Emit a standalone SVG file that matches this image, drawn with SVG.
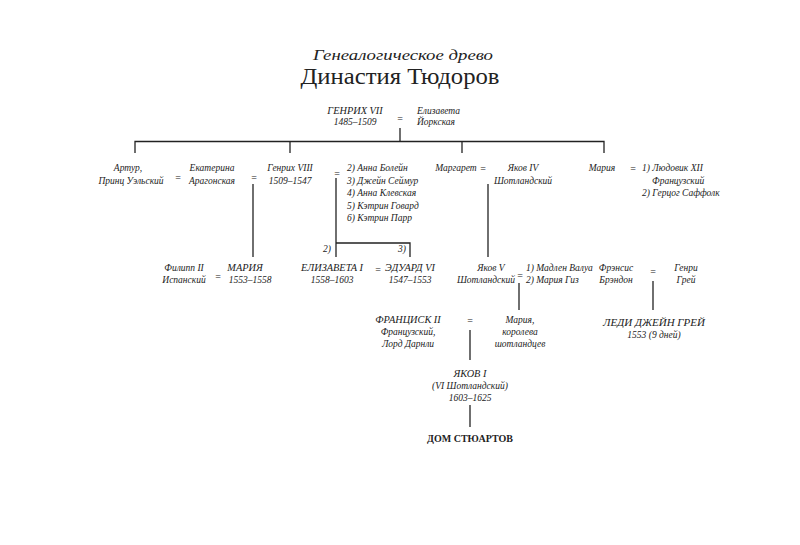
<svg xmlns="http://www.w3.org/2000/svg" width="800" height="545" viewBox="0 0 800 545">
<style>
.t{font-family:"Liberation Serif","DejaVu Serif",serif;font-style:italic;font-size:9.5px;fill:#222}
.k{font-size:10.3px}
.m{text-anchor:middle}
.eq{font-family:"Liberation Serif","DejaVu Serif",serif;font-size:10px;fill:#222;text-anchor:middle}
.c line,.c polyline{stroke:#222;stroke-width:1.3;fill:none}
</style>
<rect width="800" height="545" fill="#fff"/>
<g id="title">
<text x="403" y="60" class="t m" style="font-size:15.5px" textLength="180" lengthAdjust="spacingAndGlyphs">Генеалогическое древо</text>
<text x="400" y="84" style="font-family:'Liberation Serif','DejaVu Serif',serif;font-size:24px;fill:#222;text-anchor:middle" textLength="199" lengthAdjust="spacingAndGlyphs">Династия Тюдоров</text>
</g>
<g class="c" id="connectors">
<line x1="400" y1="128" x2="400" y2="141.5"/>
<polyline points="135,153 135,141.5 604,141.5 604,153"/>
<line x1="290" y1="141.5" x2="290" y2="153"/>
<line x1="462" y1="141.5" x2="462" y2="153"/>
<line x1="253" y1="184" x2="253" y2="257"/>
<line x1="336" y1="178" x2="336" y2="257"/>
<polyline points="336,243 410,243 410,257"/>
<line x1="488" y1="184" x2="488" y2="257"/>
<line x1="519" y1="283" x2="519" y2="310"/>
<line x1="653" y1="281" x2="653" y2="310"/>
<line x1="470" y1="330" x2="470" y2="360"/>
<line x1="470" y1="405" x2="470" y2="427"/>
<text x="327" y="252" class="t m">2)</text>
<text x="402" y="252" class="t m">3)</text>
</g>
<g id="henry7">
<text x="355" y="113.5" class="t k m">ГЕНРИХ VII</text>
<text x="355" y="125" class="t m">1485–1509</text>
<text x="400" y="121.5" class="eq">=</text>
</g>
<g id="elizabeth-york">
<text x="417" y="113.5" class="t">Елизавета</text>
<text x="417" y="125" class="t">Йоркская</text>
</g>
<g id="arthur">
<text x="128" y="171" class="t m">Артур,</text>
<text x="131" y="184" class="t m">Принц Уэльский</text>
<text x="178" y="181" class="eq">=</text>
</g>
<g id="catherine">
<text x="212" y="171" class="t m">Екатерина</text>
<text x="212" y="184" class="t m">Арагонская</text>
<text x="254" y="181" class="eq">=</text>
</g>
<g id="henry8">
<text x="290" y="171" class="t m">Генрих VIII</text>
<text x="290" y="184" class="t m">1509–1547</text>
<text x="337" y="177" class="eq">=</text>
</g>
<g id="wives">
<text x="347" y="171" class="t">2) Анна Болейн</text>
<text x="347" y="183.5" class="t">3) Джейн Сеймур</text>
<text x="347" y="196" class="t">4) Анна Клевская</text>
<text x="347" y="208.5" class="t">5) Кэтрин Говард</text>
<text x="347" y="221" class="t">6) Кэтрин Парр</text>
</g>
<g id="margaret">
<text x="456" y="171" class="t m">Маргарет</text>
<text x="483" y="172" class="eq">=</text>
</g>
<g id="james4">
<text x="523" y="171" class="t m">Яков IV</text>
<text x="523" y="184" class="t m">Шотландский</text>
</g>
<g id="mary-tudor">
<text x="602" y="171" class="t m">Мария</text>
<text x="633" y="172" class="eq">=</text>
</g>
<g id="mary-husbands">
<text x="642" y="171" class="t">1) Людовик XII</text>
<text x="652" y="183.5" class="t">Французский</text>
<text x="642" y="196" class="t">2) Герцог Саффолк</text>
</g>
<g id="philip2">
<text x="184" y="271" class="t m">Филипп II</text>
<text x="184" y="283" class="t m">Испанский</text>
<text x="218" y="279.5" class="eq">=</text>
</g>
<g id="mary1">
<text x="245" y="271" class="t k m">МАРИЯ</text>
<text x="250" y="283" class="t m">1553–1558</text>
</g>
<g id="elizabeth1">
<text x="332" y="271" class="t k m">ЕЛИЗАВЕТА I</text>
<text x="332" y="283" class="t m">1558–1603</text>
<text x="378" y="273" class="eq">=</text>
</g>
<g id="edward6">
<text x="410" y="271" class="t k m">ЭДУАРД VI</text>
<text x="410" y="283" class="t m">1547–1553</text>
</g>
<g id="james5">
<text x="491" y="271" class="t m">Яков V</text>
<text x="486" y="283" class="t m">Шотландский</text>
<text x="520" y="278.5" class="eq">=</text>
</g>
<g id="james5-wives">
<text x="526" y="271" class="t">1) Мадлен Валуа</text>
<text x="526" y="283" class="t">2) Мария Гиз</text>
</g>
<g id="frances-brandon">
<text x="616" y="271" class="t m">Фрэнсис</text>
<text x="616" y="283" class="t m">Брэндон</text>
<text x="653" y="275" class="eq">=</text>
</g>
<g id="henry-grey">
<text x="686" y="271" class="t m">Генри</text>
<text x="686" y="283" class="t m">Грей</text>
</g>
<g id="francis2">
<text x="408" y="323" class="t k m">ФРАНЦИСК II</text>
<text x="408" y="335" class="t m">Французский,</text>
<text x="408" y="347" class="t m">Лорд Дарнли</text>
<text x="470" y="324" class="eq">=</text>
</g>
<g id="mary-scots">
<text x="520" y="323" class="t m">Мария,</text>
<text x="520" y="335" class="t m">королева</text>
<text x="520" y="347" class="t m">шотландцев</text>
</g>
<g id="jane-grey">
<text x="654" y="326" class="t m" style="font-size:11px">ЛЕДИ ДЖЕЙН ГРЕЙ</text>
<text x="654" y="338" class="t m">1553 (9 дней)</text>
</g>
<g id="james1">
<text x="470" y="377" class="t k m">ЯКОВ I</text>
<text x="470" y="389" class="t m">(VI Шотландский)</text>
<text x="470" y="401" class="t m">1603–1625</text>
</g>
<g id="stuarts">
<text x="470" y="442" style="font-family:'Liberation Serif','DejaVu Serif',serif;font-size:10px;font-weight:bold;fill:#222;text-anchor:middle">ДОМ СТЮАРТОВ</text>
</g>
</svg>
